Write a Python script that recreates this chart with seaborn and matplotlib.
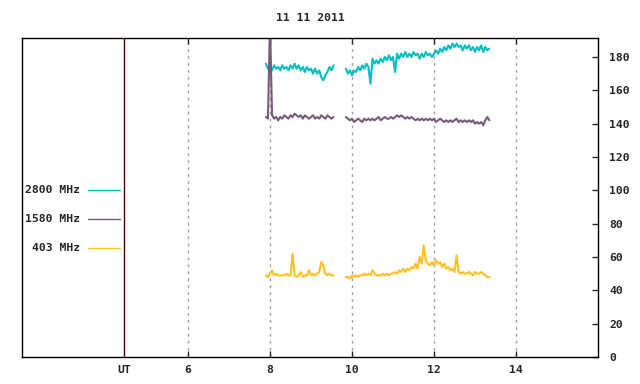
import numpy as np
import pandas as pd
import matplotlib
matplotlib.use("Agg")
import matplotlib.pyplot as plt
import seaborn as sns
from matplotlib.lines import Line2D

# radio flux, 11 11 2011, sampled every 0.05 h
seg1_hours = np.round(np.arange(7.90, 9.551, 0.05), 2)
seg2_hours = np.round(np.arange(9.85, 13.351, 0.05), 2)

flux2800_seg1 = [176, 173, 175, 172, 175, 173, 174, 172, 175, 173, 174, 172, 175, 173, 176, 173, 175,
                 172, 174, 171, 174, 172, 173, 170, 173, 170, 172, 168, 166, 169, 171, 174, 172, 175]
flux2800_seg2 = [173, 170, 172, 169, 172, 171, 174, 172, 175, 173, 176, 174, 164, 179, 176, 178, 176,
                 179, 177, 180, 178,
                 181, 178, 180, 171, 182, 179, 182, 180, 183, 180, 182, 180, 183, 181, 182, 179, 182,
                 180, 183, 181, 182, 180, 182, 184, 182, 185, 183, 186, 184, 187, 185, 188, 186, 188,
                 186, 187, 184, 187, 185, 187, 184, 186, 183, 186, 184, 187, 183, 186, 184, 185]

flux1580_seg1 = [144, 143, 200, 145, 143, 144, 142, 144, 143, 145, 144, 143, 145, 144, 146, 145, 144,
                 145, 143, 145, 144, 143, 144, 145, 143, 144, 143, 145, 144, 143, 145, 144, 143, 144]
flux1580_seg2 = [144, 143, 142, 143, 141, 142, 143, 142, 141, 143, 142, 143, 142, 143, 142, 143, 144,
                 142, 143, 144, 143,
                 143, 144, 143, 144, 145, 144, 145, 144, 143, 144, 143, 144, 143, 142, 143, 142, 143,
                 142, 143, 142, 143, 142, 143, 141, 142, 143, 142, 141, 142, 141, 142, 141, 142, 143,
                 141, 142, 141, 142, 141, 142, 141, 142, 140, 141, 140, 141, 139, 142, 144, 142]

flux403_seg1 = [49, 48, 50, 52, 49, 50, 49, 49, 49, 49, 50, 49, 49, 62, 49, 48, 49, 51, 48, 49,
                49, 52, 49, 50, 49, 50, 51, 57, 55, 50, 49, 50, 49, 49]
flux403_seg2 = [48, 48, 47, 49, 48, 49, 48, 49, 49, 50, 49, 50, 49, 52, 50, 49, 49, 49, 50, 49, 50,
                49, 50, 50, 51, 50, 52, 51, 53, 51, 53, 52, 54, 53, 56, 53, 60, 56, 67, 58, 56,
                55, 57, 55, 58, 56, 57, 54, 56, 53, 54, 52, 53, 51, 61, 51, 50, 51, 50, 50, 51,
                50, 49, 51, 50, 50, 51, 50, 49, 48, 48]

bands = ["2800 MHz", "1580 MHz", "403 MHz"]
colors = {"2800 MHz": "#00bfc0", "1580 MHz": "#7a5a7c", "403 MHz": "#ffc020"}
xtick_vals = [6, 8, 10, 12, 14]
ut_hour = 6 - 64 / 41
ytick_vals = list(range(0, 181, 20))

series = {
    "2800 MHz": (flux2800_seg1, flux2800_seg2),
    "1580 MHz": (flux1580_seg1, flux1580_seg2),
    "403 MHz": (flux403_seg1, flux403_seg2),
}
frames = []
for band, (s1, s2) in series.items():
    frames.append(pd.DataFrame({"hour": seg1_hours, "flux": s1, "band": band, "seg": 1}))
    frames.append(pd.DataFrame({"hour": seg2_hours, "flux": s2, "band": band, "seg": 2}))
df = pd.concat(frames, ignore_index=True)

sns.set_style("white")
plt.rcParams["font.family"] = ["DejaVu Sans Mono"]

fig = plt.figure(figsize=(6.4, 3.84), dpi=100)
ax = fig.add_axes([22 / 640, 1 - 357 / 384, 576 / 640, 319 / 384])

sns.lineplot(data=df, x="hour", y="flux", hue="band", units="seg", estimator=None,
             palette=colors, hue_order=bands, legend=False, linewidth=1.5, ax=ax)

ax.set_xlim(6 - 166 / 41, 16)
ax.set_ylim(0, 319 * 0.6)

for h in xtick_vals:
    ax.axvline(h, color="#a0a0a0", lw=1, ls=(0, (2, 3)), zorder=0)
ax.axvline(ut_hour, color="#500000", lw=1, zorder=1)

ax.set_xticks([ut_hour] + xtick_vals)
ax.set_xticklabels(["UT"] + [str(v) for v in xtick_vals])
ax.tick_params(axis="x", direction="in", length=4, width=1, top=True, bottom=True,
               labelsize=8.2, pad=6)
ax.xaxis.get_major_ticks()[0].tick1line.set_visible(False)
ax.xaxis.get_major_ticks()[0].tick2line.set_visible(False)
ax.yaxis.tick_right()
ax.set_yticks(ytick_vals)
ax.tick_params(axis="y", direction="in", length=4, width=1, labelsize=8.2, pad=8)
for lab in ax.get_xticklabels() + ax.get_yticklabels():
    lab.set_fontweight("bold")
ax.set_xlabel("")
ax.set_ylabel("")
for sp in ax.spines.values():
    sp.set_color("black")
    sp.set_linewidth(1)

fig.text(310 / 640, 1 - 18 / 384, "11 11 2011", ha="center", va="center",
         fontsize=8.2, fontweight="bold")

# gnuplot style key on the left
for i, band in enumerate(bands):
    ypix = 190 + 29 * i
    fig.text(80 / 640, 1 - ypix / 384, band, ha="right", va="center",
             fontsize=8.2, fontweight="bold")
    fig.add_artist(Line2D([88 / 640, 120 / 640], [1 - ypix / 384] * 2,
                          color=colors[band], lw=1, transform=fig.transFigure))

fig.savefig("out.png", dpi=100)
